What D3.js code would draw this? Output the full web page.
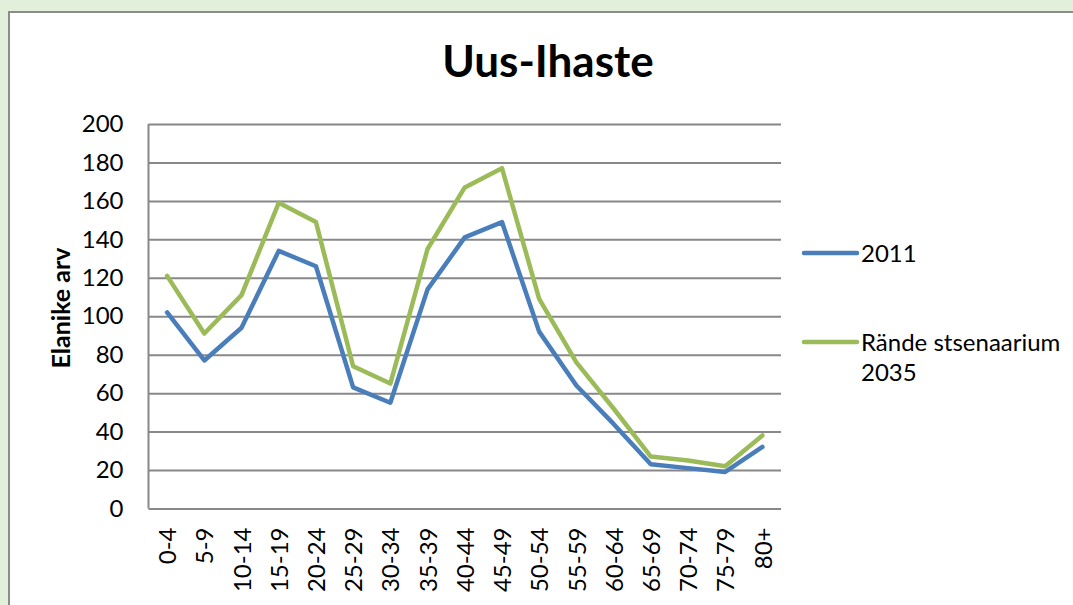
<!DOCTYPE html>
<html>
<head>
<meta charset="utf-8">
<script src="https://cdn.jsdelivr.net/npm/d3@7"></script>
<style>
  html, body { margin: 0; padding: 0; background: #e2efda; }
  svg { display: block; font-family: Lato, "Open Sans", sans-serif; }
</style>
</head>
<body>
<div id="chart"></div>
<script>
const categories = ["0-4", "5-9", "10-14", "15-19", "20-24", "25-29", "30-34", "35-39",
  "40-44", "45-49", "50-54", "55-59", "60-64", "65-69", "70-74", "75-79", "80+"];
const values2011 = [102, 77, 94, 134, 126, 63, 55, 114, 141, 149, 92, 64, 44, 23, 21, 19, 32];
const values2035 = [121, 91, 111, 159, 149, 74, 65, 135, 167, 177, 109, 76, 52, 27, 25, 22, 38];
const seriesNames = ["2011", "Rände stsenaarium 2035"];
const yTicks = [0, 20, 40, 60, 80, 100, 120, 140, 160, 180, 200];

const width = 1073;
const height = 605;
const plot = { left: 148.5, right: 781, top: 124, bottom: 508.5 };
const font = "Lato, 'Open Sans', sans-serif";

const svg = d3.select("#chart").append("svg")
  .attr("width", width)
  .attr("height", height);

// white chart panel with gray border
svg.append("rect")
  .attr("x", 9).attr("y", 12)
  .attr("width", width).attr("height", height)
  .attr("fill", "#fff")
  .attr("stroke", "#8c8c8c")
  .attr("stroke-width", 2);

const x = d3.scalePoint()
  .domain(categories)
  .range([plot.left, plot.right])
  .padding(0.5);

const y = d3.scaleLinear()
  .domain([0, 200])
  .range([plot.bottom, plot.top]);

// y axis with gridlines
const yAxis = svg.append("g")
  .attr("transform", `translate(${plot.left},0)`)
  .call(d3.axisLeft(y)
    .tickValues(yTicks)
    .tickSize(-(plot.right - plot.left))
    .tickPadding(25))
  .attr("font-family", font)
  .attr("font-size", 24);
yAxis.select(".domain").remove();
yAxis.selectAll(".tick line")
  .attr("stroke", "#888")
  .attr("stroke-width", 2);
yAxis.selectAll(".tick text")
  .attr("fill", "#000");

// left axis line
svg.append("line")
  .attr("x1", plot.left).attr("x2", plot.left)
  .attr("y1", plot.top).attr("y2", plot.bottom)
  .attr("stroke", "#888")
  .attr("stroke-width", 2);

// x axis labels
const xAxis = svg.append("g")
  .attr("transform", `translate(0,${plot.bottom})`)
  .call(d3.axisBottom(x).tickSize(0).tickPadding(0))
  .attr("font-family", font)
  .attr("font-size", 24);
xAxis.select(".domain").remove();
xAxis.selectAll(".tick text")
  .attr("fill", "#000")
  .attr("transform", "rotate(-90)")
  .attr("text-anchor", "end")
  .attr("x", -19)
  .attr("y", 0)
  .attr("dy", "0.36em");

// lines
const line = d3.line()
  .x((d, i) => x(categories[i]))
  .y(d => y(d));

const colors = ["#4a7ebb", "#9bbb59"];
[values2011, values2035].forEach((vals, i) => {
  svg.append("path")
    .datum(vals)
    .attr("fill", "none")
    .attr("stroke", colors[i])
    .attr("stroke-width", 4.5)
    .attr("stroke-linejoin", "round")
    .attr("stroke-linecap", "round")
    .attr("d", line);
});

// title
svg.append("text")
  .attr("x", 548)
  .attr("y", 77)
  .attr("text-anchor", "middle")
  .style("font-size", "44px")
  .style("font-weight", "bold")
  .text("Uus-Ihaste");

// y axis title
svg.append("text")
  .attr("transform", "translate(70,308) rotate(-90)")
  .attr("text-anchor", "middle")
  .style("font-size", "25px")
  .style("font-weight", "bold")
  .text("Elanike arv");

// legend
const legend = svg.append("g").style("font-size", "24px");
legend.append("line")
  .attr("x1", 804).attr("x2", 857)
  .attr("y1", 253).attr("y2", 253)
  .attr("stroke", colors[0]).attr("stroke-width", 4.5)
  .attr("stroke-linecap", "round");
legend.append("text")
  .attr("x", 861).attr("y", 261.5)
  .text(seriesNames[0]);

legend.append("line")
  .attr("x1", 804).attr("x2", 857)
  .attr("y1", 342).attr("y2", 342)
  .attr("stroke", colors[1]).attr("stroke-width", 4.5)
  .attr("stroke-linecap", "round");
const t2 = legend.append("text")
  .attr("x", 861).attr("y", 350.5);
t2.append("tspan").attr("x", 861).text("Rände stsenaarium");
t2.append("tspan").attr("x", 861).attr("dy", 30.5).text("2035");
</script>
</body>
</html>
